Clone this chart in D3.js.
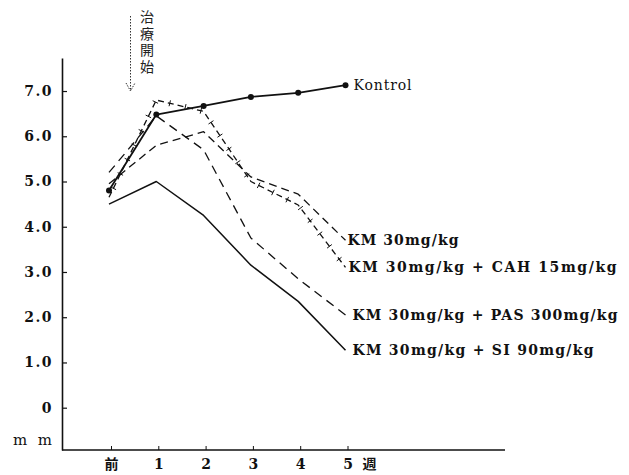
<!DOCTYPE html>
<html>
<head>
<meta charset="utf-8">
<script src="https://cdn.jsdelivr.net/npm/d3@7"></script>
<style>
  html, body { margin: 0; padding: 0; background: #fff; }
  svg { display: block; }
</style>
</head>
<body>
<svg id="chart" width="629" height="475"></svg>
<script>
// ---- data ----
const weeks = ["前", "1", "2", "3", "4", "5"];
const yTicks = [0, 1, 2, 3, 4, 5, 6, 7];
const yTickLabels = ["0", "1.0", "2.0", "3.0", "4.0", "5.0", "6.0", "7.0"];
const kontrol = [4.8, 6.48, 6.67, 6.87, 6.96, 7.13];
const km      = [4.95, 5.8, 6.1, 5.1, 4.72, 3.7];
const kmCah   = [4.65, 6.8, 6.55, 5.0, 4.48, 3.1];
const kmPas   = [5.2, 6.45, 5.7, 3.75, 2.85, 2.05];
const kmSi    = [4.5, 5.0, 4.25, 3.15, 2.35, 1.27];
const seriesNames = ["Kontrol", "KM 30mg/kg", "KM 30mg/kg + CAH 15mg/kg",
                     "KM 30mg/kg + PAS 300mg/kg", "KM 30mg/kg + SI 90mg/kg"];
const annotation = "治療開始";
const unitLabel = "mm";
const weekUnit = "週";

// ---- layout ----
const svg = d3.select("#chart");
const serif = "'DejaVu Serif', 'Liberation Serif', serif";
const cjk = "'Noto Sans CJK JP', sans-serif";
const axisX = 62, axisBottom = 450, axisTop = 58, axisRight = 505;

const x = d3.scaleLinear().domain([0, 5]).range([109, 345.5]);
const y = d3.scaleLinear().domain([-0.935, 7.73]).range([axisBottom, axisTop]);

// y axis
const yAxis = d3.axisLeft(y)
  .tickValues(yTicks)
  .tickSizeInner(-5)
  .tickSizeOuter(0)
  .tickPadding(9)
  .tickFormat((d, i) => yTickLabels[i]);
const gy = svg.append("g").attr("transform", `translate(${axisX},0)`).call(yAxis);
gy.select(".domain").attr("stroke", "#111").attr("stroke-width", 1.6);
gy.selectAll(".tick line").attr("stroke", "#111").attr("stroke-width", 1.2);
gy.selectAll(".tick text")
  .attr("font-family", serif).attr("font-size", 14).attr("font-weight", "bold")
  .attr("fill", "#111").attr("letter-spacing", 1.5);

// x axis baseline
svg.append("line")
  .attr("x1", axisX).attr("x2", axisRight)
  .attr("y1", axisBottom).attr("y2", axisBottom)
  .attr("stroke", "#111").attr("stroke-width", 1.6);

const xAxis = d3.axisBottom(x)
  .tickValues(d3.range(weeks.length))
  .tickSizeInner(-4)
  .tickSizeOuter(0)
  .tickPadding(9)
  .tickFormat((d, i) => weeks[i]);
const gx = svg.append("g").attr("transform", `translate(2,${axisBottom})`).call(xAxis);
gx.select(".domain").remove();
gx.selectAll(".tick line").attr("stroke", "#111").attr("stroke-width", 1);
gx.selectAll(".tick text")
  .attr("font-family", (d, i) => i === 0 ? cjk : serif)
  .attr("font-size", 14).attr("font-weight", "bold").attr("fill", "#111");

svg.append("text")
  .attr("x", x(5) + 24).attr("y", axisBottom + 9).attr("dy", "0.71em")
  .attr("text-anchor", "middle")
  .attr("font-family", cjk).attr("font-size", 14)
  .attr("font-weight", "bold").attr("fill", "#111")
  .text(weekUnit);

svg.append("text")
  .attr("x", 13).attr("y", 445)
  .attr("font-family", serif).attr("font-size", 15).attr("fill", "#111")
  .attr("textLength", 39).attr("lengthAdjust", "spacing")
  .text(unitLabel);

// annotation: 治療開始 (vertical) with dotted arrow
svg.append("text")
  .attr("x", 147).attr("y", 10)
  .attr("writing-mode", "tb")
  .style("writing-mode", "vertical-rl")
  .attr("letter-spacing", 2.5)
  .attr("font-family", cjk).attr("font-size", 14)
  .attr("fill", "#222")
  .text(annotation);
svg.append("line")
  .attr("x1", 130.5).attr("x2", 130.5).attr("y1", 16).attr("y2", 90)
  .attr("stroke", "#333").attr("stroke-width", 1).attr("stroke-dasharray", "1.5,1.5");
svg.append("path")
  .attr("d", "M126,83 L130.5,91 L135,83")
  .attr("fill", "none").attr("stroke", "#333").attr("stroke-width", 1)
  .attr("stroke-dasharray", "1.5,1.2");

// ---- lines ----
const line = d3.line().x((d, i) => x(i)).y(d => y(d));
const styles = [
  { data: kontrol, dash: null, w: 1.8 },
  { data: km, dash: "8,5", w: 1.3 },
  { data: kmCah, dash: "6,4", w: 1.3 },
  { data: kmPas, dash: "9,6", w: 1.3 },
  { data: kmSi, dash: null, w: 1.5 }
];
const paths = svg.selectAll("path.series").data(styles).join("path")
  .attr("class", "series")
  .attr("d", s => line(s.data))
  .attr("fill", "none").attr("stroke", "#111")
  .attr("stroke-width", s => s.w)
  .attr("stroke-dasharray", s => s.dash)
  .attr("stroke-linejoin", "round");

// cross ticks along the CAH line
const cahPath = paths.filter((s, i) => i === 2).node();
const L = cahPath.getTotalLength();
const crossG = svg.append("g");
for (let l = 10; l < L - 4; l += 16) {
  const p = cahPath.getPointAtLength(l);
  const q = cahPath.getPointAtLength(Math.min(L, l + 1));
  const ang = Math.atan2(q.y - p.y, q.x - p.x);
  const nx = -Math.sin(ang), ny = Math.cos(ang);
  crossG.append("line")
    .attr("x1", p.x - nx * 3).attr("y1", p.y - ny * 3)
    .attr("x2", p.x + nx * 3).attr("y2", p.y + ny * 3)
    .attr("stroke", "#111").attr("stroke-width", 1);
}

// Kontrol dots
svg.selectAll("circle.k").data(kontrol).join("circle")
  .attr("class", "k")
  .attr("cx", (d, i) => x(i)).attr("cy", d => y(d)).attr("r", 3)
  .attr("fill", "#111");

// ---- labels at the line ends ----
const labelWidths = [58, 111, 268, 265, 241];
const labelDx = [8, 2, 3, 7, 7];
const labelWeight = ["normal", "bold", "bold", "bold", "bold"];
svg.selectAll("text.lab").data(styles).join("text")
  .attr("class", "lab")
  .attr("x", (s, i) => x(5) + labelDx[i])
  .attr("y", s => y(s.data[s.data.length - 1]))
  .attr("dy", "0.35em")
  .attr("font-family", serif).attr("font-size", 14)
  .attr("font-weight", (s, i) => labelWeight[i])
  .attr("fill", "#111")
  .attr("textLength", (s, i) => labelWidths[i]).attr("lengthAdjust", "spacing")
  .text((s, i) => seriesNames[i]);
</script>
</body>
</html>
